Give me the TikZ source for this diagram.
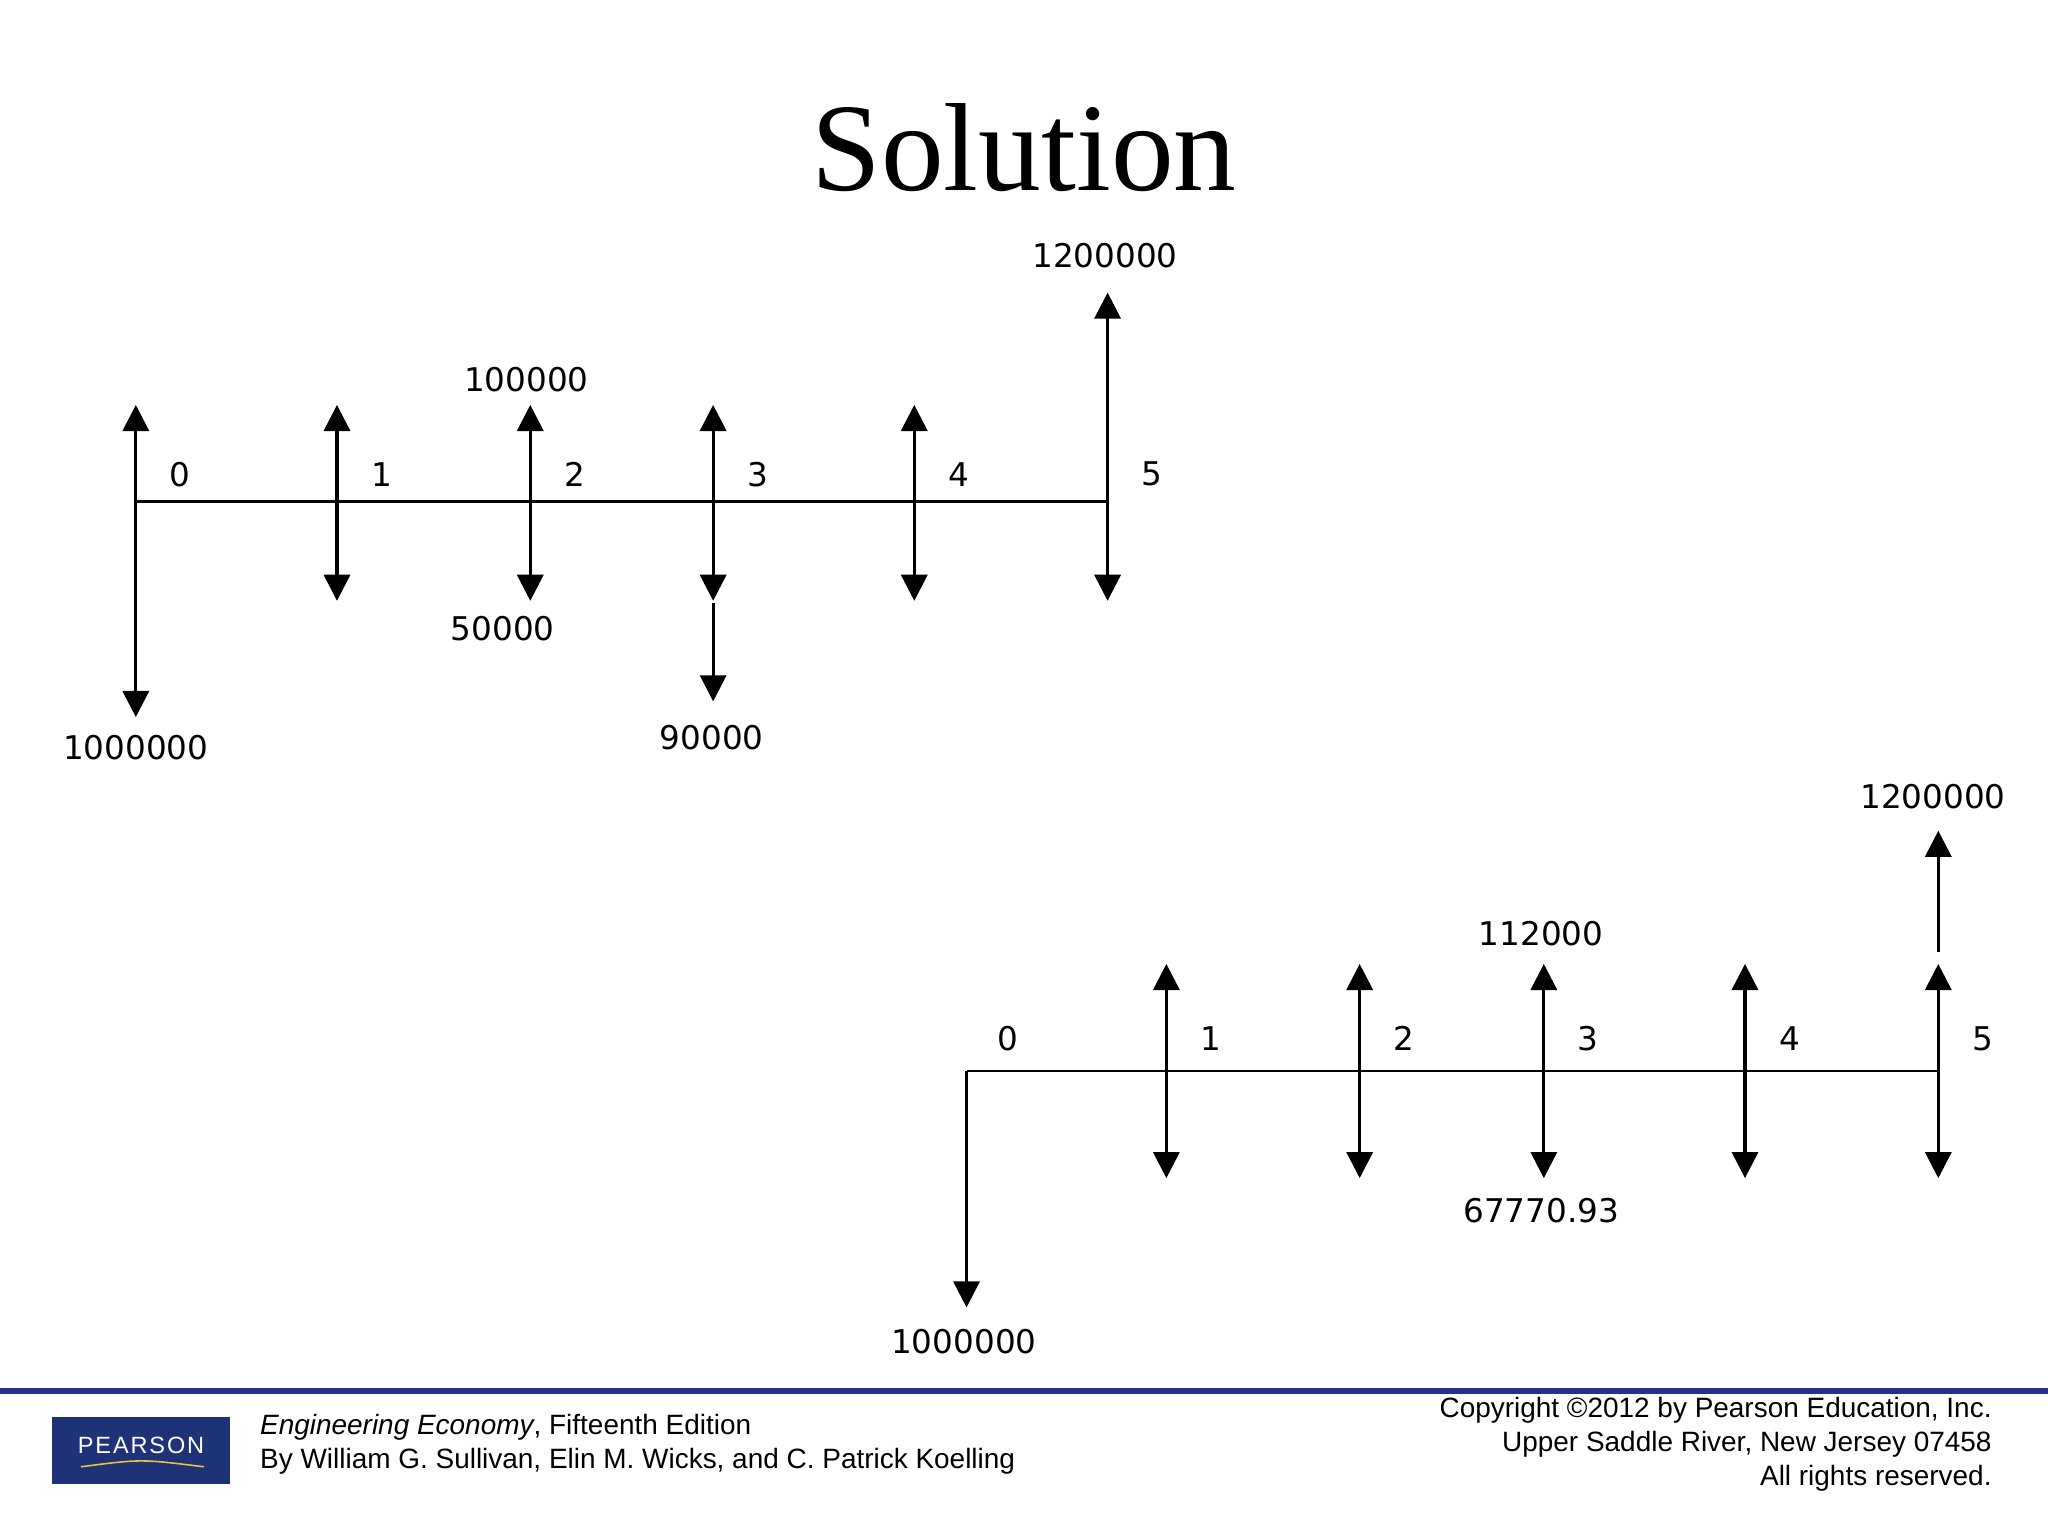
\documentclass[tikz,border=0pt]{standalone}
\usepackage{fontspec}
\setmainfont{Liberation Serif}
\newfontfamily\lbl{DejaVu Sans}
\newfontfamily\foot{Liberation Sans}
\newfontfamily\logofont[LetterSpace=8]{Liberation Sans}
\usetikzlibrary{arrows.meta}
\begin{document}
\begin{tikzpicture}[x=1pt,y=-1pt,
  ax/.style={line width=2pt},
  arr/.style={line width=2.4pt,-{Triangle[width=20pt,length=20pt]}},
  val/.style={font=\lbl\fontsize{25}{30}\selectfont,inner sep=0pt},
  tk/.style={font=\lbl\fontsize{25}{30}\selectfont,inner sep=0pt},
  ft/.style={font=\foot\fontsize{21.4}{25}\selectfont,inner sep=0pt}]
\useasboundingbox (0,0) rectangle (1568,1176);
\fill[white] (0,0) rectangle (1568,1176);
\node[font=\fontsize{96}{110}\selectfont] (title) at (784,113) {Solution};
% top diagram
\coordinate (a0) at (104,384); \coordinate (a5) at (848,384);
\draw[ax] (a0) -- (a5);
\foreach \x/\n in {104/0,258/1,406/2,546/3,700/4}{
  \coordinate (t\n) at (\x,384);
  \draw[arr] (t\n) -- (\x,310);
  \node[tk] (tl\n) at (\x+34,363) {\n};
}
\coordinate (t5) at (848,384);
\draw[arr] (t5) -- (848,224);
\node[tk] (tl5) at (882,363) {5};
\draw[arr] (t0) -- (104,549);
\foreach \n in {1,2,3,4,5}{\path (t\n) ++(0,76) coordinate (d\n); \draw[arr] (t\n) -- (d\n);}
\coordinate (e3) at (546,462);
\draw[arr] (e3) -- (546,537);
\node[val] (v1) at (846,196) {1200000};
\node[val] (v2) at (403,291) {100000};
\node[val] (v3) at (385,481) {50000};
\node[val] (v4) at (545,565) {90000};
\node[val] (v5) at (104,572) {1000000};
% bottom diagram
\coordinate (b0) at (740,820);
\draw[ax] (b0) -- (1484,820);
\node[tk] (bl0) at (772,795) {0};
\foreach \x/\n in {893/1,1041/2,1182/3,1336/4,1484/5}{
  \coordinate (s\n) at (\x,820);
  \draw[arr] (s\n) -- (\x,738);
  \draw[arr] (s\n) -- (\x,902);
  \node[tk] (bl\n) at (\x+34,795) {\n};
}
\draw[arr] (b0) -- (740,1001);
\coordinate (f5) at (1484,729);
\draw[arr] (f5) -- (1484,636);
\node[val] (w1) at (1480,610) {1200000};
\node[val] (w2) at (1180,715) {112000};
\node[val] (w3) at (1180,927) {67770.93};
\node[val] (w4) at (738,1027) {1000000};
% footer
\draw[line width=4pt,color={rgb,255:red,45;green,45;blue,140}] (0,1065) -- (1568,1065);
\fill[color={rgb,255:red,30;green,50;blue,120}] (40,1085) rectangle (176,1136);
\node[font=\logofont\fontsize{18}{22}\selectfont,text=white,inner sep=0pt] (logo) at (108,1107) {PEARSON};
\draw[color={rgb,255:red,230;green,200;blue,60},line width=1.2pt] (62,1123) .. controls (108,1117) .. (156,1123);
\node[ft,anchor=west] (f1) at (199,1093) {\textit{Engineering Economy}, Fifteenth Edition};
\node[ft,anchor=west] (f2) at (199,1119) {By William G. Sullivan, Elin M. Wicks, and C. Patrick Koelling};
\node[ft,anchor=east] (r1) at (1525,1080) {Copyright ©2012 by Pearson Education, Inc.};
\node[ft,anchor=east] (r2) at (1525,1106) {Upper Saddle River, New Jersey 07458};
\node[ft,anchor=east] (r3) at (1525,1132) {All rights reserved.};
\end{tikzpicture}
\end{document}
